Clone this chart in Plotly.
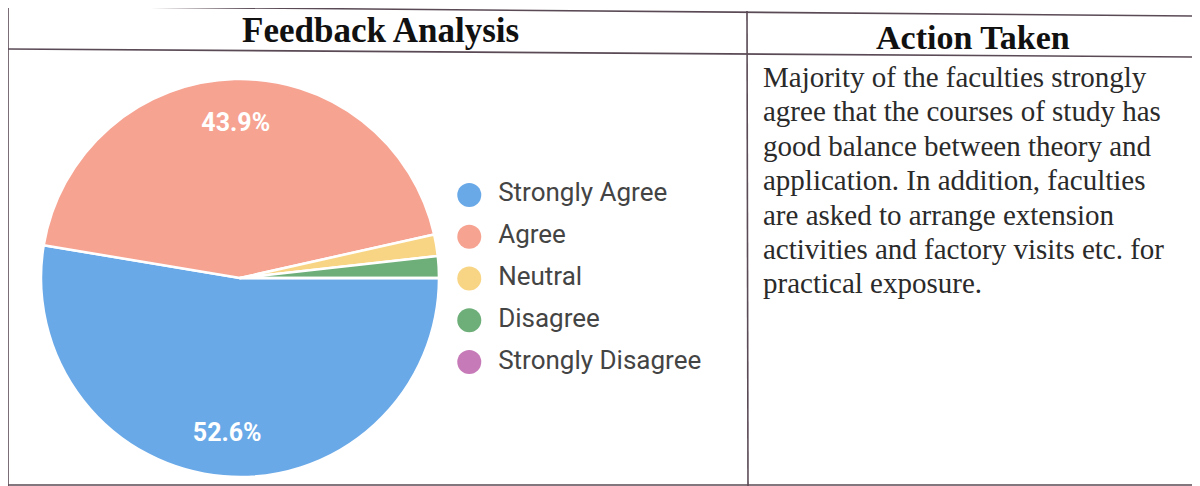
import plotly.graph_objects as go

# ---- data ----
categories = ["Strongly Agree", "Agree", "Neutral", "Disagree", "Strongly Disagree"]
counts = [30, 25, 1, 1, 0]
colors = ["#6aa9e8", "#f6a392", "#f8d584", "#6dae79", "#c77ab8"]
header_left = "Feedback Analysis"
header_right = "Action Taken"
action_lines = [
    "Majority of the faculties strongly",
    "agree that the courses of study has",
    "good balance between theory and",
    "application. In addition, faculties",
    "are asked to arrange extension",
    "activities and factory visits etc. for",
    "practical exposure.",
]

W, H = 1200, 486
OFF = 8  # page body margin


def px(x):
    return (x - OFF) / W


def py(y):
    return 1 - (y - OFF) / H


total = sum(counts)
pie_text = ["%{percent:.1%}" if c / total > 0.05 else "" for c in counts]
pie_domain = dict(x=[px(41), px(439)], y=[py(477), py(79)])

fig = go.Figure()

fig.add_trace(go.Pie(
    labels=categories,
    values=counts,
    sort=False,
    direction="clockwise",
    rotation=90,
    marker=dict(colors=colors, line=dict(color="white", width=2.5)),
    textinfo="none",
    domain=pie_domain,
    showlegend=False,
    hoverinfo="label+percent",
))

# transparent ring carrying the percentage labels further out
fig.add_trace(go.Pie(
    labels=categories,
    values=counts,
    sort=False,
    direction="clockwise",
    rotation=90,
    hole=0.56,
    marker=dict(colors=["rgba(0,0,0,0)"] * len(categories), line=dict(width=0)),
    texttemplate=pie_text,
    textposition="inside",
    insidetextorientation="horizontal",
    insidetextfont=dict(family="Roboto", size=25, color="white", weight="bold"),
    domain=pie_domain,
    showlegend=False,
    hoverinfo="skip",
))

# legend built as a scatter on a hidden axis
fig.add_trace(go.Scatter(
    x=[0.0] * len(categories),
    y=list(range(len(categories))),
    mode="markers+text",
    marker=dict(size=24, color=colors, line=dict(width=0)),
    text=["  " + c for c in categories],
    textposition="middle right",
    textfont=dict(family="Roboto", size=26, color="#444444"),
    showlegend=False,
    hoverinfo="skip",
    cliponaxis=False,
))

fig.update_xaxes(domain=[px(456), px(740)], range=[-0.049, 1], visible=False, fixedrange=True)
fig.update_yaxes(domain=[py(383), py(174)], range=[4.5, -0.5], visible=False, fixedrange=True)

line_style = dict(color="#5a4a55", width=1.6)
shapes = [
    dict(type="line", x0=px(8), y0=py(6), x1=px(1196), y1=py(16)),
    dict(type="line", x0=px(8), y0=py(49), x1=px(1196), y1=py(57)),
    dict(type="line", x0=px(8), y0=py(485), x1=px(1196), y1=py(485)),
    dict(type="line", x0=px(8), y0=py(6), x1=px(8), y1=py(486)),
    dict(type="line", x0=px(747), y0=py(11), x1=px(748), y1=py(486)),
    dict(type="line", x0=px(1196), y0=py(16), x1=px(1196), y1=py(486)),
]
for s in shapes:
    s.update(xref="paper", yref="paper", line=line_style)

annotations = [
    dict(text=header_left, x=px(380), y=py(30), xanchor="center", yanchor="middle",
         font=dict(family="Liberation Serif", size=35, color="#111111", weight="bold")),
    dict(text=header_right, x=px(973), y=py(37), xanchor="center", yanchor="middle",
         font=dict(family="Liberation Serif", size=34, color="#111111", weight="bold")),
]
line_y0, line_dy = 77, 34.4
for i, t in enumerate(action_lines):
    annotations.append(dict(
        text=t, x=px(761), y=py(line_y0 + i * line_dy), xanchor="left", yanchor="middle",
        font=dict(family="Liberation Serif", size=29, color="#2a2a2a"),
    ))
for a in annotations:
    a.update(xref="paper", yref="paper", showarrow=False)

fig.update_layout(
    width=W, height=H,
    margin=dict(l=0, r=0, t=0, b=0),
    paper_bgcolor="white",
    plot_bgcolor="rgba(0,0,0,0)",
    shapes=shapes,
    annotations=annotations,
)

fig.write_html("out.html")
